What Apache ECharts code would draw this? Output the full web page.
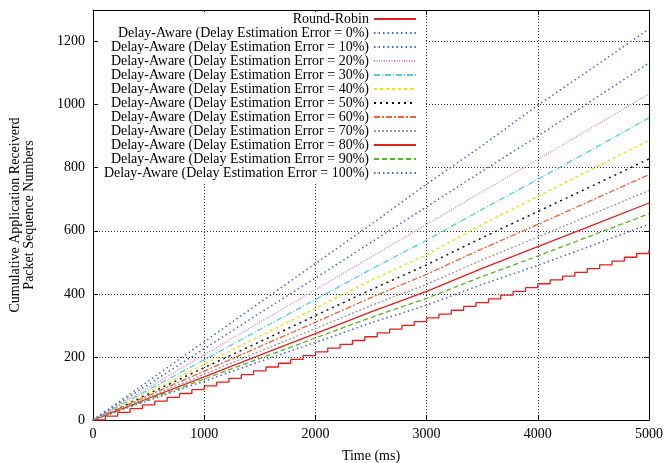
<!DOCTYPE html>
<html>
<head>
<meta charset="utf-8">
<script src="https://cdn.jsdelivr.net/npm/echarts@6/dist/echarts.min.js"></script>
<style>html,body{margin:0;padding:0;background:#fff;}#chart{width:664px;height:463px;}</style>
</head>
<body>
<div id="chart"></div>
<script>
// ---- data ----
var seriesNames = [
  'Round-Robin',
  'Delay-Aware (Delay Estimation Error = 0%)',
  'Delay-Aware (Delay Estimation Error = 10%)',
  'Delay-Aware (Delay Estimation Error = 20%)',
  'Delay-Aware (Delay Estimation Error = 30%)',
  'Delay-Aware (Delay Estimation Error = 40%)',
  'Delay-Aware (Delay Estimation Error = 50%)',
  'Delay-Aware (Delay Estimation Error = 60%)',
  'Delay-Aware (Delay Estimation Error = 70%)',
  'Delay-Aware (Delay Estimation Error = 80%)',
  'Delay-Aware (Delay Estimation Error = 90%)',
  'Delay-Aware (Delay Estimation Error = 100%)'
];
// Round-Robin staircase: step times (ms) and levels
var rrTime = [0,111,222,333,444,556,667,778,889,1000,1111,1222,1333,1444,1556,1667,1778,1889,2000,2111,2222,2333,2444,2556,2667,2778,2889,3000,3111,3222,3333,3444,3556,3667,3778,3889,4000,4111,4222,4333,4444,4556,4667,4778,4889,5000];
var rrLevel = [0,12,24,36,48,60,72,84,96,108,120,132,144,156,168,180,192,204,216,228,240,252,264,276,288,300,312,324,336,348,360,372,384,396,408,420,432,444,456,468,480,492,504,516,528,540];
// Delay-aware series sampled every 500 ms
var timeMs = [0,500,1000,1500,2000,2500,3000,3500,4000,4500,5000];
var err0   = [0,124,248,372,496,620,748,870,998,1118,1240];
var err10  = [0,113,226,339,450,563,676,789,900,1016,1132];
var err20  = [0,103,207,310,413,517,620,724,826,930,1034];
var err30  = [0,96,191,287,382,478,570,668,763,860,958];
var err40  = [0,88,177,266,354,443,524,620,709,798,887];
var err50  = [0,83,166,248,331,413,492,578,661,744,828];
var err60  = [0,78,155,233,310,388,462,543,620,699,778];
var err70  = [0,72,145,218,290,363,430,508,580,654,728];
var err80  = [0,69,137,206,274,343,408,481,550,619,688];
var err90  = [0,65,130,195,260,325,386,455,520,587,654];
var err100 = [0,62,123,185,246,308,364,430,490,555,621];
var xTicks = [0,1000,2000,3000,4000,5000];
var yTicks = [0,200,400,600,800,1000,1200];

function pairs(xs, ys){ return xs.map(function(x,i){ return [x, ys[i]]; }); }

var serif = 'Liberation Serif';
var styles = [
  {color:'#e41f1f', type:'solid', width:1.3},
  {color:'#4464c8', type:[1.5,3], width:1.5},
  {color:'#4464c8', type:[1.5,3], width:1.5},
  {color:'#d47fcf', type:[1,1.5], width:1.3},
  {color:'#5bc8e0', type:[6,2,1,2], width:1.3},
  {color:'#eee020', type:[3,3], width:1.5},
  {color:'#111111', type:[2,4], width:1.5},
  {color:'#f0603a', type:[6,2,2,2], width:1.3},
  {color:'#9a9a9a', type:[2,2], width:1.3},
  {color:'#e41f1f', type:'solid', width:1.3},
  {color:'#5cb02c', type:[5,3], width:1.3},
  {color:'#4464c8', type:[1.5,3], width:1.5}
];
var datas = [pairs(rrTime, rrLevel), pairs(timeMs, err0), pairs(timeMs, err10), pairs(timeMs, err20),
  pairs(timeMs, err30), pairs(timeMs, err40), pairs(timeMs, err50), pairs(timeMs, err60),
  pairs(timeMs, err70), pairs(timeMs, err80), pairs(timeMs, err90), pairs(timeMs, err100)];

var series = seriesNames.map(function(n, i){
  var s = {
    name: n, type: 'line', data: datas[i], symbol: 'none', showSymbol: false,
    lineStyle: {color: styles[i].color, type: styles[i].type, width: styles[i].width},
    itemStyle: {color: styles[i].color},
    animation: false, z: 12 - i
  };
  if (i === 0) s.step = 'end';
  return s;
});

var chart = echarts.init(document.getElementById('chart'), null, {renderer:'canvas'});
chart.setOption({
  backgroundColor: '#fff',
  animation: false,
  textStyle: {fontFamily: serif},
  grid: {left: 93, right: 15, top: 10, bottom: 43, containLabel: false, outerBoundsMode: 'none'},
  legend: {
    orient: 'vertical', align: 'right', right: 240, top: 12,
    itemWidth: 42, itemHeight: 8, itemGap: 0,
    backgroundColor: '#fff', padding: [0, 7, 3, 5],
    itemStyle: {color: 'rgba(0,0,0,0)', borderColor: 'rgba(0,0,0,0)', borderWidth: 0, opacity: 0},
    textStyle: {fontFamily: serif, fontSize: 14, color: '#000', lineHeight: 14},
    data: seriesNames.slice(),
    selectedMode: false
  },
  xAxis: [{
    type: 'value', min: 0, max: 5000, interval: 1000,
    name: 'Time (ms)', nameLocation: 'middle', nameGap: 29,
    nameTextStyle: {fontFamily: serif, fontSize: 14, color: '#000'},
    axisLine: {lineStyle: {color: '#000', width: 1}},
    axisTick: {inside: true, length: 5, lineStyle: {color: '#000'}},
    axisLabel: {fontFamily: serif, fontSize: 14, color: '#000', margin: 7,
      formatter: function(v){ return xTicks.indexOf(v) >= 0 ? String(v) : ''; }},
    splitLine: {show: true, lineStyle: {color: '#333', type: [1, 2], width: 1}}
  }, {
    type: 'value', position: 'top', min: 0, max: 5000, interval: 1000,
    axisLine: {show: true, onZero: false, lineStyle: {color: '#000', width: 1}},
    axisTick: {show: true, inside: true, length: 5, lineStyle: {color: '#000'}},
    axisLabel: {show: false}, splitLine: {show: false}
  }],
  yAxis: [{
    type: 'value', min: 0, max: 1300, interval: 200,
    name: 'Cumulative Application Receiverd\nPacket Sequence Numbers',
    nameLocation: 'middle', nameGap: 57, nameRotate: 90,
    nameTextStyle: {fontFamily: serif, fontSize: 14, color: '#000', lineHeight: 14},
    axisLine: {show: true, lineStyle: {color: '#000', width: 1}},
    axisTick: {show: true, inside: true, length: 5, lineStyle: {color: '#000'}},
    axisLabel: {fontFamily: serif, fontSize: 14, color: '#000', margin: 8, showMaxLabel: false,
      formatter: function(v){ return yTicks.indexOf(v) >= 0 ? String(v) : ''; }},
    splitLine: {show: true, lineStyle: {color: '#333', type: [1, 2], width: 1}}
  }, {
    type: 'value', position: 'right', min: 0, max: 1300, interval: 200,
    axisLine: {show: true, onZero: false, lineStyle: {color: '#000', width: 1}},
    axisTick: {show: true, inside: true, length: 5, lineStyle: {color: '#000'}},
    axisLabel: {show: false}, splitLine: {show: false}
  }],
  series: series
});
</script>
</body>
</html>
